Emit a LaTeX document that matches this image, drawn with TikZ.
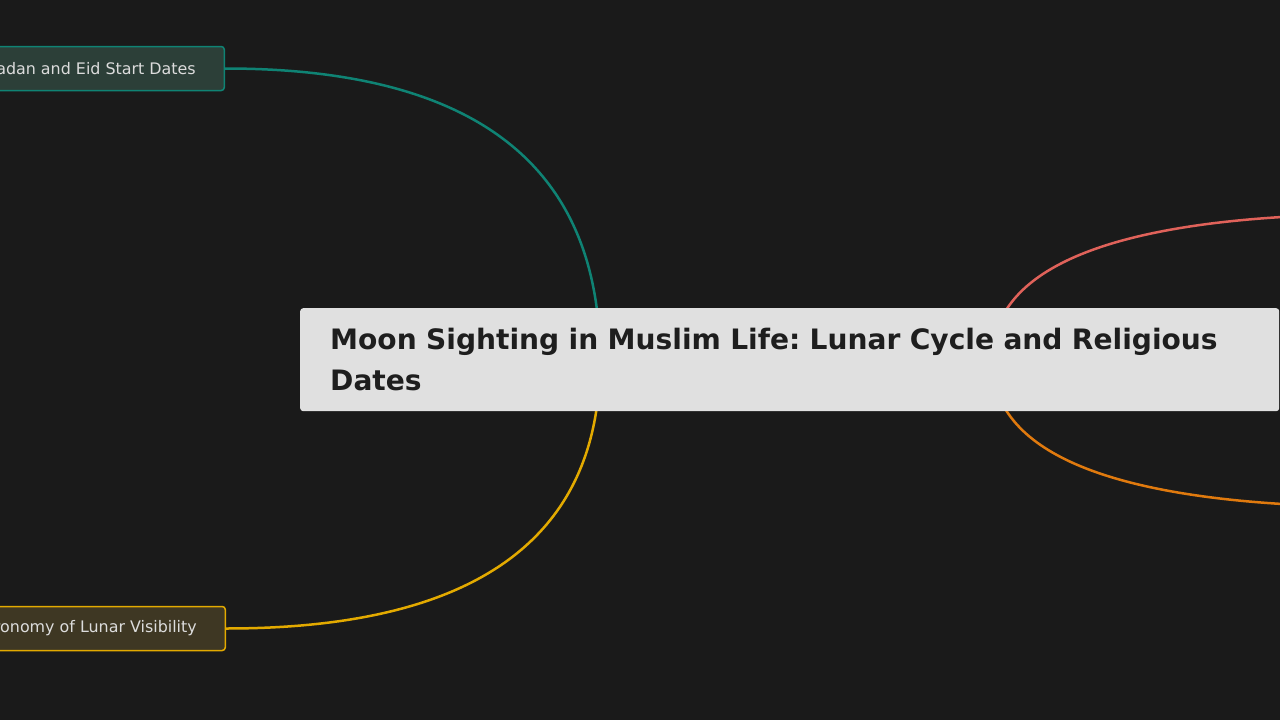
\documentclass[tikz,border=0pt]{standalone}
\usepackage{fontspec}
\setmainfont{DejaVu Sans}
\usepackage{tikz}
\frenchspacing

\definecolor{canvas}{HTML}{1A1A1A}
\definecolor{hubfill}{HTML}{E0E0E0}
\definecolor{hubtext}{HTML}{1E1E1E}
\definecolor{leaftext}{HTML}{DCDCDC}
\definecolor{teal}{HTML}{0F8374}
\definecolor{tealfill}{HTML}{2C3F38}
\definecolor{gold}{HTML}{E3AA00}
\definecolor{goldfill}{HTML}{3E3723}
\definecolor{coral}{HTML}{E0625A}
\definecolor{amber}{HTML}{E07A0E}

\tikzset{
  leaf/.style={draw, line width=1.5pt, rounded corners=3pt, anchor=east,
    minimum height=44pt, inner xsep=28.5pt, text=leaftext,
    font=\fontsize{15.9pt}{18pt}\selectfont},
  hub/.style={fill=hubfill, rounded corners=3pt, anchor=north west,
    minimum width=979pt, minimum height=103pt, inner xsep=30pt, inner ysep=0pt,
    text width=919pt, align=left, text=hubtext,
    font=\fontsize{28.1pt}{41pt}\selectfont\bfseries},
  link/.style={line width=2.5pt},
}

\begin{document}
\begin{tikzpicture}[x=1pt,y=-1pt]
		\useasboundingbox (0,0) rectangle (1280,720);
		\clip (0,0) rectangle (1280,720);
		\fill[canvas] (0,0) rectangle (1280,720);
		% hub ends and off-page ends of the right branches
		\coordinate (hubL) at (600,360);
		\coordinate (hubR) at (992,360);
		\coordinate (visEnd) at (1387,214);
		\coordinate (calEnd) at (1387,507);
		\node[leaf, draw=teal, fill=tealfill] (ramadan) at (225,68.5) {Ramadan and Eid Start Dates};
		\node[leaf, draw=gold, fill=goldfill] (astro) at (226,628.5) {Astronomy of Lunar Visibility};
		\draw[link, teal] (ramadan.east) .. controls +(250,0) and +(0,-194.7) .. (hubL);
		\draw[link, gold] (astro.east) .. controls +(249.3,0) and +(0,178.7) .. (hubL);
		\draw[link, coral] (hubR) .. controls +(0,-97.3) and +(-263.3,0) .. (visEnd);
		\draw[link, amber] (hubR) .. controls +(0,98) and +(-263.3,0) .. (calEnd);
		\node[hub] (moon) at (300,308) {Moon Sighting in Muslim Life: Lunar Cycle and Religious\\Dates};
\end{tikzpicture}
\end{document}
